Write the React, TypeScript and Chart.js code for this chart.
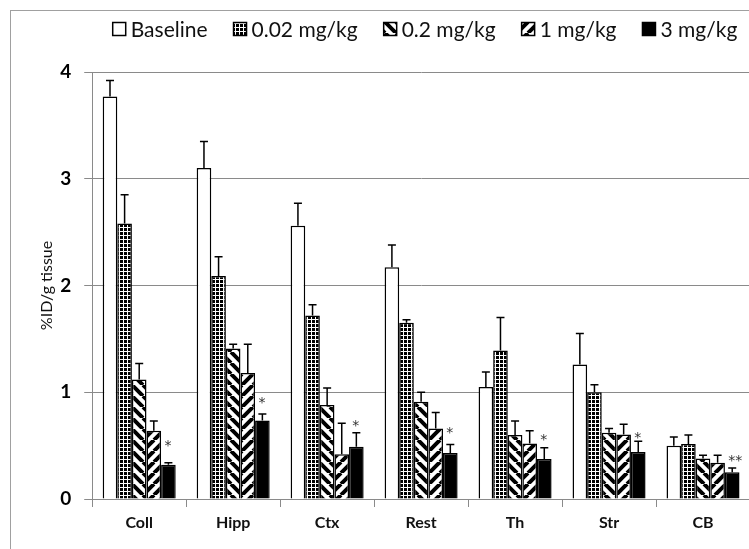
import React, { useEffect, useRef } from "react";
import { Chart, registerables } from "chart.js";

Chart.register(...registerables);

const categories = ["Coll", "Hipp", "Ctx", "Rest", "Th", "Str", "CB"];
const seriesNames = ["Baseline", "0.02 mg/kg", "0.2 mg/kg", "1 mg/kg", "3 mg/kg"];

const baseline = [3.77, 3.1, 2.56, 2.17, 1.05, 1.26, 0.5];
const baselineErr = [0.15, 0.25, 0.21, 0.21, 0.14, 0.29, 0.08];
const dose002 = [2.58, 2.09, 1.72, 1.65, 1.39, 1.0, 0.515];
const dose002Err = [0.27, 0.18, 0.1, 0.03, 0.31, 0.07, 0.085];
const dose02 = [1.12, 1.41, 0.88, 0.91, 0.6, 0.62, 0.38];
const dose02Err = [0.15, 0.04, 0.16, 0.09, 0.13, 0.04, 0.03];
const dose1 = [0.64, 1.18, 0.42, 0.66, 0.52, 0.605, 0.34];
const dose1Err = [0.09, 0.27, 0.29, 0.15, 0.12, 0.095, 0.07];
const dose3 = [0.32, 0.736, 0.49, 0.43, 0.375, 0.44, 0.25];
const dose3Err = [0.02, 0.06, 0.13, 0.08, 0.105, 0.1, 0.04];

const starLabels = ["*", "*", "*", "*", "*", "*", "**"];
const starValues = [0.53, 0.94, 0.72, 0.66, 0.59, 0.61, 0.39];

const yTicks = [0, 1, 2, 3, 4];

const FONT = "Lato, 'Open Sans', sans-serif";

function makePattern(kind: string): CanvasPattern | string {
  const c = document.createElement("canvas");
  const size = kind === "grid" ? 4 : 11;
  c.width = size;
  c.height = size;
  const g = c.getContext("2d")!;
  if (kind === "grid") {
    g.fillStyle = "#000";
    g.fillRect(0, 0, size, size);
    g.fillStyle = "#fff";
    g.fillRect(0, 0, size, 1);
    g.fillRect(0, 0, 1, size);
  } else {
    g.fillStyle = "#fff";
    g.fillRect(0, 0, size, size);
    g.strokeStyle = "#000";
    g.lineWidth = 4;
    g.beginPath();
    for (const k of [-size, 0, size]) {
      if (kind === "back") {
        g.moveTo(k, 0);
        g.lineTo(k + size, size);
      } else {
        g.moveTo(k, size);
        g.lineTo(k + size, 0);
      }
    }
    g.stroke();
  }
  const p = g.createPattern(c, "repeat");
  return p || "#888";
}

export default function App() {
  const ref = useRef<HTMLCanvasElement | null>(null);

  useEffect(() => {
    if (!ref.current) return;
    const fills = [
      "#ffffff",
      makePattern("grid"),
      makePattern("back"),
      makePattern("fwd"),
      "#000000",
    ];
    const values = [baseline, dose002, dose02, dose1, dose3];
    const errors = [baselineErr, dose002Err, dose02Err, dose1Err, dose3Err];

    const errorBars = {
      id: "errorBars",
      afterDatasetsDraw(chart: any) {
        const ctx = chart.ctx;
        const y = chart.scales.y;
        ctx.save();
        ctx.strokeStyle = "#000";
        ctx.lineWidth = 1.5;
        chart.data.datasets.forEach((ds: any, d: number) => {
          const meta = chart.getDatasetMeta(d);
          meta.data.forEach((el: any, i: number) => {
            const top = y.getPixelForValue(values[d][i] + errors[d][i]);
            ctx.beginPath();
            ctx.moveTo(el.x, el.y);
            ctx.lineTo(el.x, top);
            ctx.moveTo(el.x - 4, top);
            ctx.lineTo(el.x + 4, top);
            ctx.stroke();
          });
        });
        // significance stars
        const meta = chart.getDatasetMeta(4);
        ctx.fillStyle = "#333";
        ctx.font = `14px 'DejaVu Sans', sans-serif`;
        ctx.textAlign = "left";
        ctx.textBaseline = "alphabetic";
        meta.data.forEach((el: any, i: number) => {
          const yy = y.getPixelForValue(starValues[i]);
          ctx.fillText(starLabels[i], el.x - 4, yy + 8);
        });
        ctx.restore();
      },
    };

    const customLegend = {
      id: "customLegend",
      afterDraw(chart: any) {
        const ctx = chart.ctx;
        ctx.save();
        ctx.font = `21px ${FONT}`;
        ctx.textBaseline = "middle";
        ctx.textAlign = "left";
        const box = 13;
        const gapIn = 5;
        const gapOut = 26;
        const widths = seriesNames.map((s) => ctx.measureText(s).width);
        let total = 0;
        widths.forEach((w, i) => {
          total += box + gapIn + w + (i < widths.length - 1 ? gapOut : 0);
        });
        let x = 414 - total / 2;
        const cy = 18;
        seriesNames.forEach((s, i) => {
          ctx.fillStyle = fills[i] as any;
          ctx.fillRect(x, cy - box / 2, box, box);
          ctx.strokeStyle = "#000";
          ctx.lineWidth = 1.5;
          ctx.strokeRect(x, cy - box / 2, box, box);
          ctx.fillStyle = "#111";
          ctx.fillText(s, x + box + gapIn, cy + 1);
          x += box + gapIn + widths[i] + gapOut;
        });
        ctx.restore();
      },
    };

    const chart = new Chart(ref.current, {
      type: "bar",
      data: {
        labels: categories,
        datasets: values.map((v, i) => ({
          label: seriesNames[i],
          data: v,
          backgroundColor: fills[i] as any,
          borderColor: "#000",
          borderWidth: 1.5,
          categoryPercentage: 0.777,
          barPercentage: 1,
        })),
      },
      options: {
        animation: false,
        responsive: false,
        layout: { padding: { top: 61, right: 89, left: 0, bottom: 0 } },
        plugins: {
          legend: { display: false },
          tooltip: { enabled: false },
        },
        scales: {
          x: {
            grid: {
              offset: true,
              drawOnChartArea: false,
              color: "#8a8a8a",
              tickLength: 8,
            },
            border: { color: "#8a8a8a" },
            ticks: {
              font: { family: FONT, size: 16, weight: "bold" },
              color: "#111",
              padding: 6,
            },
            afterFit: (s: any) => {
              s.height = 72;
            },
          },
          y: {
            min: 0,
            max: 4,
            afterBuildTicks: (s: any) => {
              s.ticks = yTicks.map((v) => ({ value: v }));
            },
            ticks: {
              font: { family: FONT, size: 19, weight: "bold" },
              color: "#000",
              padding: 13,
            },
            grid: { color: "#8a8a8a", tickLength: 8 },
            border: { color: "#8a8a8a" },
            title: {
              display: true,
              text: "%ID/g tissue",
              font: { family: FONT, size: 16 },
              color: "#111",
              padding: { top: 26, bottom: -9 },
            },
          },
        },
      },
      plugins: [errorBars, customLegend],
    });
    return () => chart.destroy();
  }, []);

  return (
    <div
      style={{
        position: "fixed",
        inset: 0,
        overflow: "hidden",
        background: "#fff",
      }}
    >
      <div
        style={{
          position: "absolute",
          left: 10,
          top: 10,
          width: 828,
          height: 560,
          border: "1px solid #a0a0a0",
        }}
      >
        <canvas ref={ref} width={828} height={560} style={{ display: "block" }} />
      </div>
    </div>
  );
}
